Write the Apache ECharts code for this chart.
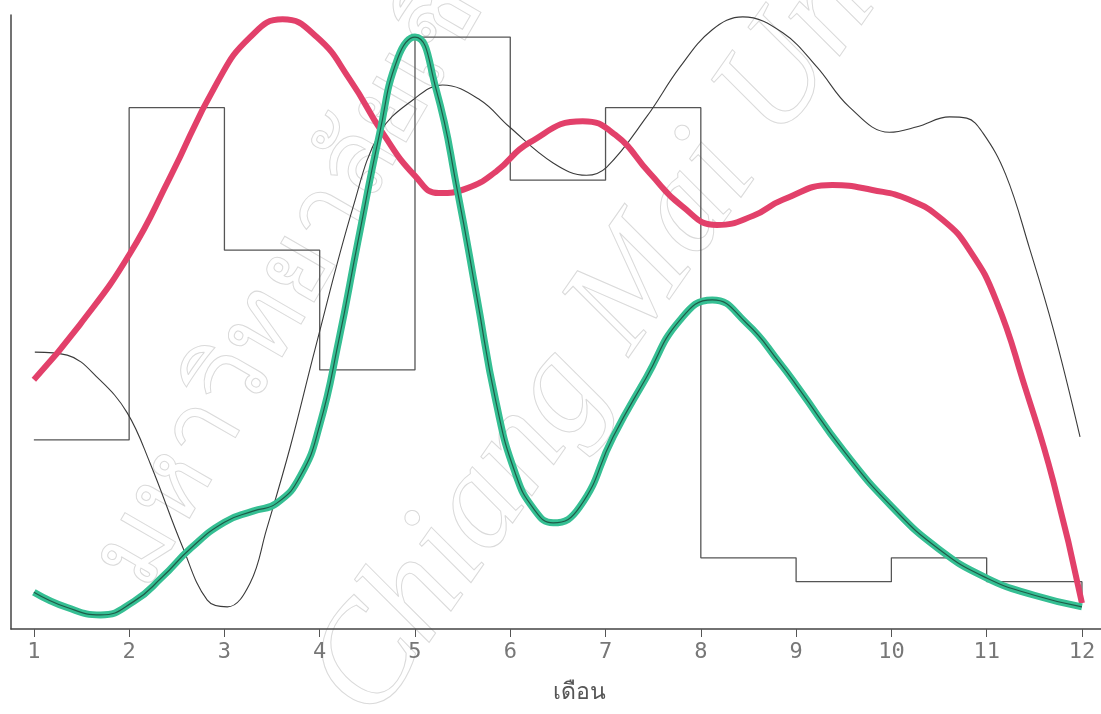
<!DOCTYPE html>
<html><head><meta charset="utf-8">
<script src="https://cdn.jsdelivr.net/npm/echarts@6/dist/echarts.min.js"></script>
<style>html,body{margin:0;padding:0;background:#fff}#c{width:1101px;height:714px}</style>
</head><body><div id="c"></div>
<script>
// x-axis categories (months) and tick labels
const months = [1,2,3,4,5,6,7,8,9,10,11,12];
const monthLabels = ['1','2','3','4','5','6','7','8','9','10','11','12'];
const xAxisName = 'เดือน';
const watermarkThai = 'มหาวิทยาลัยเชียงใหม่';
const watermarkEn = 'Chiang Mai University';

// step series (value held from each month to the next)
const stepValues = [30.8, 84.9, 61.7, 42.2, 96.4, 73.1, 84.9, 11.6, 7.7, 11.6, 7.7, 4.2];

// red thick curve [month, value]
const redCurve = [
  [1.00,40.6],[1.48,49.5],[2.01,61.2],[2.43,73.6],[2.92,88.9],[3.27,96.4],[3.61,99.3],
  [3.97,96.4],[4.32,89.4],[4.66,80.8],[5.00,73.8],[5.25,71.0],[5.55,71.8],[5.85,74.5],
  [6.20,79.2],[6.76,82.7],[7.10,80.5],[7.46,74.3],[7.80,68.9],[8.17,65.8],[8.55,67.3],
  [8.86,69.9],[9.38,72.3],[9.80,71.5],[10.19,69.9],[10.54,66.6],[10.82,61.7],[11.10,53.5],
  [11.40,39.5],[11.70,24.0],[12.00,4.2]
];

// green thick curve [month, value]
const greenCurve = [
  [1.00,6.0],[1.35,3.5],[1.70,2.3],[2.05,4.5],[2.35,8.5],[2.65,13.2],[3.00,17.4],
  [3.30,19.2],[3.55,20.5],[3.80,25.0],[4.00,33.2],[4.20,47.0],[4.40,63.0],[4.63,80.8],
  [4.82,93.0],[5.00,96.4],[5.22,88.0],[5.45,71.0],[5.65,54.0],[5.85,37.0],[6.05,25.5],
  [6.25,19.5],[6.45,17.3],[6.73,19.9],[7.08,31.3],[7.43,41.0],[7.78,50.3],[8.12,53.6],
  [8.48,49.8],[8.83,43.3],[9.04,38.9],[9.50,29.0],[10.00,20.0],[10.50,13.0],[11.00,8.3],
  [11.50,5.5],[12.00,3.6]
];

// thin black curve [month, value]
const blackCurve = [
  [1.01,45.1],[1.35,44.6],[1.69,40.6],[1.98,35.2],[2.22,27.0],[2.56,13.4],[2.82,4.7],
  [3.03,3.6],[3.27,7.5],[3.44,16.1],[3.69,29.6],[3.95,45.5],[4.35,68.7],[4.63,80.8],
  [4.98,86.2],[5.29,88.6],[5.68,86.2],[5.99,81.8],[6.45,75.9],[6.80,73.9],[7.01,75.2],
  [7.43,83.4],[7.78,91.5],[8.12,97.6],[8.44,99.7],[8.86,97.1],[9.22,91.5],[9.56,85.0],
  [9.98,80.9],[10.27,81.8],[10.61,83.4],[10.79,83.2],[10.96,80.8],[11.20,74.0],
  [11.45,62.0],[11.70,48.8],[11.98,31.3]
];

const chart = echarts.init(document.getElementById('c'), null, {renderer: 'canvas'});
const deg = Math.PI / 180;
chart.setOption({
  animation: false,
  backgroundColor: '#ffffff',
  grid: {left: 11, right: 0, top: 15, bottom: 85},
  xAxis: {
    type: 'value', min: 0.76, max: 12.2,
    axisLine: {show: true, lineStyle: {color: '#444', width: 1.5}},
    axisTick: {show: true, customValues: months, length: 8, lineStyle: {color: '#555', width: 1}},
    axisLabel: {
      customValues: months,
      formatter: v => monthLabels[months.indexOf(v)],
      margin: 12, fontFamily: 'DejaVu Sans Mono', fontSize: 22, color: '#777'
    },
    splitLine: {show: false}
  },
  yAxis: {
    type: 'value', min: 0, max: 100,
    axisLine: {show: true, lineStyle: {color: '#444', width: 1.5}},
    axisTick: {show: false}, axisLabel: {show: false}, splitLine: {show: false}
  },
  graphic: [
    {type: 'text', left: 553, top: 681, style: {text: xAxisName, fontSize: 23, fill: '#555', fontFamily: 'Noto Sans, DejaVu Sans, sans-serif'}},
    {type: 'text', x: 168, y: 605, rotation: 60 * deg, silent: true, z: -10,
     style: {text: watermarkThai, fontSize: 105, fill: 'none', stroke: '#dadada', lineWidth: 1, textVerticalAlign: 'bottom', fontFamily: 'serif'}},
    {type: 'text', x: 400, y: 742, rotation: 55 * deg, silent: true, z: -10,
     style: {text: watermarkEn, fontSize: 140, fill: 'none', stroke: '#dadada', lineWidth: 1, textVerticalAlign: 'bottom', fontFamily: 'Liberation Serif', fontStyle: 'italic'}}
  ],
  series: [
    {type: 'line', data: months.map((m, i) => [m, stepValues[i]]), step: 'end', symbol: 'none',
     lineStyle: {color: '#555', width: 1.3}, z: 2},
    {type: 'line', data: blackCurve, smooth: 0.4, symbol: 'none',
     lineStyle: {color: '#3a3a3a', width: 1.1}, z: 3},
    {type: 'line', data: redCurve, smooth: 0.5, symbol: 'none',
     lineStyle: {color: '#e2406a', width: 6}, z: 4},
    {type: 'line', data: greenCurve, smooth: 0.5, symbol: 'none',
     lineStyle: {color: '#35bf93', width: 7}, z: 5},
    {type: 'line', data: greenCurve, smooth: 0.5, symbol: 'none',
     lineStyle: {color: '#1f5a48', width: 1.2}, z: 6}
  ]
});
</script>
</body></html>
